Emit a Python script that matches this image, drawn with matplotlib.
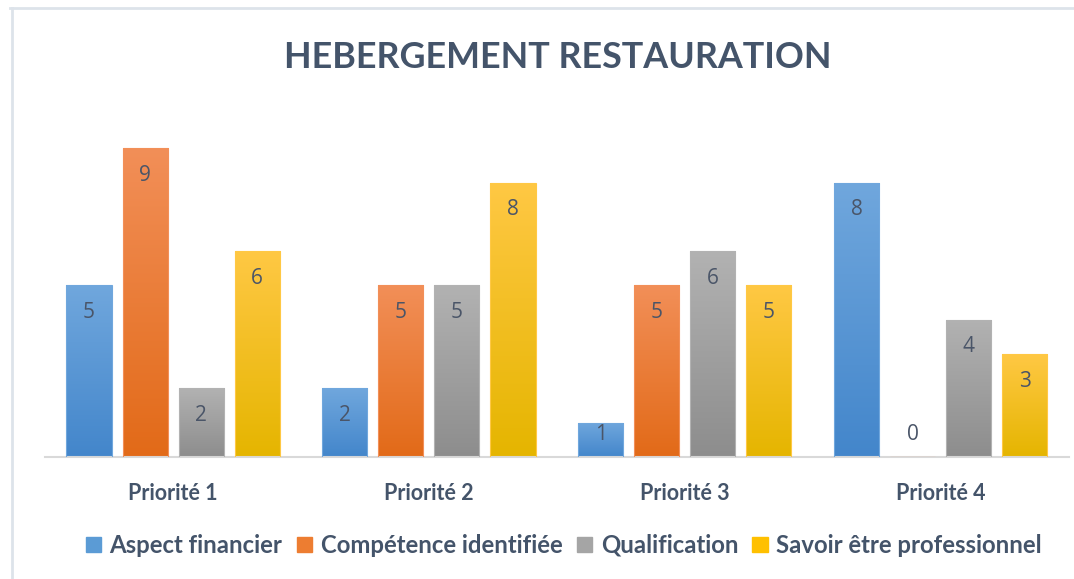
import numpy as np
import matplotlib
matplotlib.use("Agg")
import matplotlib.pyplot as plt
from matplotlib.colors import LinearSegmentedColormap
from matplotlib.lines import Line2D
import matplotlib.patches as patches

title = "HEBERGEMENT RESTAURATION"
categories = ["Priorité 1", "Priorité 2", "Priorité 3", "Priorité 4"]
series_names = ["Aspect financier", "Compétence identifiée", "Qualification",
                "Savoir être professionnel"]
aspect_financier = [5, 2, 1, 8]
competence_identifiee = [9, 5, 5, 0]
qualification = [2, 5, 6, 4]
savoir_etre = [6, 8, 5, 3]
series_values = [aspect_financier, competence_identifiee, qualification, savoir_etre]

# (top, bottom) gradient colours, plus a flat colour for the legend
grad_colors = [("#70a7dd", "#4386cb"),
               ("#f28f58", "#e26a18"),
               ("#b2b2b2", "#8d8d8d"),
               ("#ffc844", "#e5b500")]
flat_colors = ["#5b9bd5", "#ed7d31", "#a5a5a5", "#ffc000"]
text_color = "#44546a"
label_font = ["Lato", "DejaVu Sans"]

fig = plt.figure(figsize=(10.74, 5.79), dpi=100)
ax = fig.add_axes([0.042, 0.211, 0.953, 0.592])

x = np.arange(len(categories))
bar_w = 0.176
pitch = 0.219
grad = np.linspace(0, 1, 256).reshape(-1, 1)

for i, (vals, (c_top, c_bot)) in enumerate(zip(series_values, grad_colors)):
    pos = x + (i - 1.5) * pitch
    bars = ax.bar(pos, vals, bar_w, facecolor="none", edgecolor=c_top,
                  linewidth=0.8, zorder=3)
    cmap = LinearSegmentedColormap.from_list(f"g{i}", [c_bot, c_top])
    for bar, v in zip(bars, vals):
        if v > 0:
            x0, w, h = bar.get_x(), bar.get_width(), bar.get_height()
            im = ax.imshow(grad, extent=[x0, x0 + w, 0, h], origin="lower",
                           cmap=cmap, aspect="auto", zorder=2)
            im.set_clip_path(bar)
        # label sits just inside the bar end, but never below the baseline
        y_lbl = max(v - 0.79, 0.64)
        ax.text(bar.get_x() + bar.get_width() / 2, y_lbl, str(v),
                ha="center", va="center", fontsize=15,
                color="#4a5568", family=["Open Sans", "DejaVu Sans"], zorder=4)

ax.set_xlim(-0.5, 3.5)
ax.set_ylim(0, 10)
ax.set_xticks(x, categories)
ax.set_yticks([])
ax.tick_params(axis="x", length=0, pad=19)
for lbl in ax.get_xticklabels():
    lbl.set_fontfamily(label_font)
    lbl.set_fontweight("bold")
    lbl.set_fontsize(15.5)
    lbl.set_color(text_color)
for side in ["top", "left", "right"]:
    ax.spines[side].set_visible(False)
ax.spines["bottom"].set_color("#d9d9d9")
ax.spines["bottom"].set_linewidth(1.5)

ttl = fig.text(0.519, 0.9, title, ha="center", va="center", fontsize=30,
               fontweight="bold", color=text_color, family=label_font)
# shrink the title to the width of the original (about 548 px)
r = fig.canvas.get_renderer()
tw = ttl.get_window_extent(r).width
ttl.set_fontsize(30 * 548 / tw)

handles = [patches.Patch(facecolor=c, edgecolor=c) for c in flat_colors]
leg = fig.legend(handles, series_names, loc="center", ncol=4,
                 bbox_to_anchor=(0.525, 0.058), frameon=False,
                 handlelength=0.65, handleheight=0.65, handletextpad=0.35,
                 columnspacing=0.6,
                 prop={"family": label_font, "weight": "bold", "size": 17.2})
for t in leg.get_texts():
    t.set_color(text_color)

# chart area border (top and left edges visible)
fig.add_artist(Line2D([10 / 1074, 1], [1 - 8 / 579, 1 - 8 / 579],
                      color="#dde3ea", linewidth=2, transform=fig.transFigure))
fig.add_artist(Line2D([12 / 1074, 12 / 1074], [0, 1 - 8 / 579],
                      color="#dde3ea", linewidth=2, transform=fig.transFigure))

fig.savefig("out.png", dpi=100)
